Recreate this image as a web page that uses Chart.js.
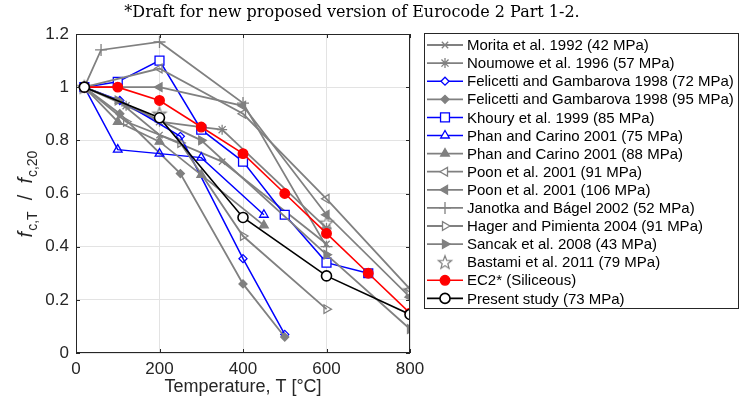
<!DOCTYPE html>
<html>
<head>
<meta charset="utf-8">
<script src="https://cdn.jsdelivr.net/npm/chart.js@4"></script>
<style>
  body { margin: 0; background: #fff; }
  #wrap { width: 740px; height: 409px; }
</style>
</head>
<body>
<div id="wrap"><canvas id="sterkteChart" width="740" height="409"></canvas></div>
<script>
// Relatieve druksterkte f_c,T / f_c,20 tegen temperatuur
const xTicks = [0, 200, 400, 600, 800];
const yTicks = [0, 0.2, 0.4, 0.6, 0.8, 1, 1.2];

const moritaT = [20, 100, 200, 350, 600];
const moritaV = [1, 0.95, 0.82, 0.72, 0.41];
const noumoweT = [20, 120, 200, 300, 350, 600];
const noumoweV = [1, 0.93, 0.87, 0.85, 0.84, 0.47];
const felicetti72T = [20, 105, 250, 400, 500];
const felicetti72V = [1, 0.95, 0.815, 0.355, 0.07];
const felicetti95T = [20, 105, 250, 400, 500];
const felicetti95V = [1, 0.9, 0.675, 0.26, 0.06];
const khouryT = [20, 100, 200, 300, 400, 500, 600, 700];
const khouryV = [1, 1.02, 1.1, 0.84, 0.72, 0.52, 0.34, 0.3];
const phan75T = [20, 100, 200, 300, 450];
const phan75V = [1, 0.765, 0.75, 0.735, 0.52];
const phan88T = [20, 100, 200, 300, 450];
const phan88V = [1, 0.87, 0.795, 0.67, 0.48];
const poon91T = [20, 200, 400, 600, 800];
const poon91V = [1, 1.07, 0.9, 0.58, 0.24];
const poon106T = [20, 200, 400, 600, 800];
const poon106V = [1, 1.0, 0.93, 0.52, 0.21];
const janotkaT = [20, 60, 200, 400, 600];
const janotkaV = [1, 1.14, 1.17, 0.94, 0.4];
const hagerT = [20, 120, 250, 400, 600];
const hagerV = [1, 0.87, 0.79, 0.44, 0.165];
const sancakT = [20, 100, 300, 600, 800];
const sancakV = [1, 0.95, 0.8, 0.37, 0.09];
const bastamiT = [20, 200, 600, 800];
const bastamiV = [1, 0.9, 0.49, 0.235];
const ec2T = [20, 100, 200, 300, 400, 500, 600, 700, 800];
const ec2V = [1, 1, 0.95, 0.85, 0.75, 0.6, 0.45, 0.3, 0.15];
const studieT = [20, 200, 400, 600, 800];
const studieV = [1, 0.885, 0.51, 0.29, 0.145];

const GRIJS = "#808080";
const BLAUW = "#0000ff";

// open vijfpuntige ster als puntstijl
function maakSter(kleur, r) {
  const c = document.createElement("canvas");
  const s = Math.ceil(r * 2 + 4);
  c.width = s; c.height = s;
  const g = c.getContext("2d");
  g.strokeStyle = kleur;
  g.lineWidth = 1.2;
  g.beginPath();
  for (let i = 0; i < 10; i++) {
    const rad = i % 2 === 0 ? r : r * 0.42;
    const a = -Math.PI / 2 + i * Math.PI / 5;
    const px = s / 2 + rad * Math.cos(a);
    const py = s / 2 + rad * Math.sin(a) + 0.5;
    if (i === 0) g.moveTo(px, py); else g.lineTo(px, py);
  }
  g.closePath();
  g.stroke();
  return c;
}
const sterIcoon = maakSter(GRIJS, 7);

function punten(t, v) {
  return t.map((x, i) => ({ x: x, y: v[i] }));
}

function reeks(label, t, v, kleur, stijl, extra) {
  return Object.assign({
    label: label,
    data: punten(t, v),
    borderColor: kleur,
    backgroundColor: "rgba(0,0,0,0)",
    borderWidth: kleur === GRIJS ? 1.8 : 1.5,
    pointStyle: stijl,
    pointRadius: 4.5,
    pointBorderColor: kleur,
    pointBackgroundColor: "rgba(0,0,0,0)",
    pointBorderWidth: 1.3,
    pointRotation: 0,
    tension: 0,
  }, extra || {});
}

const datasets = [
  reeks("Morita et al. 1992 (42 MPa)", moritaT, moritaV, GRIJS, "crossRot"),
  reeks("Noumowe et al. 1996 (57 MPa)", noumoweT, noumoweV, GRIJS, "star", { pointRadius: 5 }),
  reeks("Felicetti and Gambarova 1998 (72 MPa)", felicetti72T, felicetti72V, BLAUW, "rectRot", { pointRadius: 4 }),
  reeks("Felicetti and Gambarova 1998 (95 MPa)", felicetti95T, felicetti95V, GRIJS, "rectRot", { pointRadius: 4, pointBackgroundColor: GRIJS }),
  reeks("Khoury et al. 1999 (85 MPa)", khouryT, khouryV, BLAUW, "rect", { pointRadius: 6.3, pointBackgroundColor: "#fff" }),
  reeks("Phan and Carino 2001 (75 MPa)", phan75T, phan75V, BLAUW, "triangle", { pointRadius: 5 }),
  reeks("Phan and Carino 2001 (88 MPa)", phan88T, phan88V, GRIJS, "triangle", { pointRadius: 5, pointBackgroundColor: GRIJS }),
  reeks("Poon et al. 2001 (91 MPa)", poon91T, poon91V, GRIJS, "triangle", { pointRadius: 5, pointRotation: -90 }),
  reeks("Poon et al. 2001 (106 MPa)", poon106T, poon106V, GRIJS, "triangle", { pointRadius: 5, pointRotation: -90, pointBackgroundColor: GRIJS }),
  reeks("Janotka and Bágel 2002 (52 MPa)", janotkaT, janotkaV, GRIJS, "cross", { pointRadius: 6 }),
  reeks("Hager and Pimienta 2004 (91 MPa)", hagerT, hagerV, GRIJS, "triangle", { pointRadius: 5, pointRotation: 90 }),
  reeks("Sancak et al. 2008 (43 MPa)", sancakT, sancakV, GRIJS, "triangle", { pointRadius: 5, pointRotation: 90, pointBackgroundColor: GRIJS }),
  reeks("Bastami et al. 2011 (79 MPa)", bastamiT, bastamiV, GRIJS, sterIcoon, { showLine: false }),
  reeks("EC2* (Siliceous)", ec2T, ec2V, "#ff0000", "circle", { pointRadius: 4.8, pointBackgroundColor: "#ff0000", borderWidth: 1.6 }),
  reeks("Present study (73 MPa)", studieT, studieV, "#000000", "circle", { pointRadius: 5, pointBackgroundColor: "#fff", pointBorderWidth: 1.6, borderWidth: 1.6 }),
];
// latere reeksen bovenop tekenen
datasets.forEach((d, i) => { d.order = datasets.length - i; });

const TEKST = "#262626";

// titel, y-as titel met subscripts, binnenwaartse tickjes en legenda
const extraTekening = {
  id: "extraTekening",
  afterDraw(chart) {
    const ctx = chart.ctx;
    const ca = chart.chartArea;
    const xs = chart.scales.x;
    const ys = chart.scales.y;
    ctx.save();

    // kader en tickjes
    ctx.strokeStyle = TEKST;
    ctx.lineWidth = 1;
    ctx.strokeRect(ca.left + 0.5, ca.top + 0.5, ca.right - ca.left - 1, ca.bottom - ca.top - 1);
    ctx.beginPath();
    xTicks.forEach(t => {
      const px = Math.round(xs.getPixelForValue(t)) + 0.5;
      ctx.moveTo(px, ca.bottom); ctx.lineTo(px, ca.bottom - 4);
      ctx.moveTo(px, ca.top); ctx.lineTo(px, ca.top + 4);
    });
    yTicks.forEach(t => {
      const py = Math.round(ys.getPixelForValue(t)) + 0.5;
      ctx.moveTo(ca.left, py); ctx.lineTo(ca.left + 4, py);
      ctx.moveTo(ca.right, py); ctx.lineTo(ca.right - 4, py);
    });
    ctx.stroke();

    // titel
    ctx.fillStyle = "#000";
    ctx.font = "16px 'DejaVu Serif'";
    ctx.textAlign = "center";
    ctx.textBaseline = "middle";
    ctx.fillText("*Draft for new proposed version of Eurocode 2 Part 1-2.", 352, 13);

    // y-as titel
    const delen = [
      { t: "f", f: "italic 20px 'Liberation Sans'", dy: 0 },
      { t: "c,T", f: "14px 'Liberation Sans'", dy: 5 },
      { t: "  /  ", f: "20px 'Liberation Sans'", dy: 0 },
      { t: "f", f: "italic 20px 'Liberation Sans'", dy: 0 },
      { t: "c,20", f: "14px 'Liberation Sans'", dy: 5 },
    ];
    let breedte = 0;
    delen.forEach(d => { ctx.font = d.f; d.w = ctx.measureText(d.t).width; breedte += d.w; });
    ctx.translate(26, 195);
    ctx.rotate(-Math.PI / 2);
    ctx.fillStyle = TEKST;
    ctx.textAlign = "left";
    ctx.textBaseline = "alphabetic";
    let x0 = -breedte / 2;
    delen.forEach(d => {
      ctx.font = d.f;
      ctx.fillText(d.t, x0, 6 + d.dy);
      x0 += d.w + (d.t === "f" ? 1 : 0);
    });
    ctx.setTransform(1, 0, 0, 1, 0, 0);

    // legenda
    const lx = 424, ly = 33, lb = 739, lh = 309;
    ctx.fillStyle = "#fff";
    ctx.fillRect(lx, ly, lb - lx, lh - ly);
    ctx.strokeStyle = TEKST;
    ctx.lineWidth = 1;
    ctx.strokeRect(lx + 0.5, ly + 0.5, lb - lx - 1, lh - ly - 1);
    ctx.font = "15px 'Liberation Sans'";
    ctx.textBaseline = "middle";
    ctx.textAlign = "left";
    chart.data.datasets.forEach((d, i) => {
      const y = 45 + i * 18.1;
      if (d.showLine !== false) {
        ctx.strokeStyle = d.borderColor;
        ctx.lineWidth = d.borderWidth;
        ctx.beginPath();
        ctx.moveTo(427, y); ctx.lineTo(463, y);
        ctx.stroke();
      }
      ctx.strokeStyle = d.pointBorderColor;
      ctx.fillStyle = d.pointBackgroundColor === "rgba(0,0,0,0)" ? "#fff" : d.pointBackgroundColor;
      ctx.lineWidth = d.pointBorderWidth;
      Chart.helpers.drawPoint(ctx, {
        pointStyle: d.pointStyle,
        radius: d.pointRadius,
        rotation: d.pointRotation,
        borderWidth: d.pointBorderWidth,
      }, 445, y);
      ctx.fillStyle = "#000";
      ctx.fillText(d.label, 467, y + 1);
    });
    ctx.restore();
  },
};

new Chart(document.getElementById("sterkteChart"), {
  type: "line",
  data: { datasets: datasets },
  options: {
    responsive: false,
    animation: false,
    layout: { padding: { top: 34, right: 330, left: 0, bottom: 0 } },
    plugins: { legend: { display: false }, tooltip: { enabled: false } },
    scales: {
      x: {
        type: "linear",
        min: 0,
        max: 800,
        afterBuildTicks: s => { s.ticks = xTicks.map(v => ({ value: v })); },
        afterFit: s => { s.height = 56; },
        grid: { color: "#e3e3e3", drawTicks: false },
        border: { display: false },
        ticks: { color: TEKST, padding: 6, font: { family: "Liberation Sans", size: 17 } },
        title: {
          display: true,
          text: "Temperature, T [°C]",
          color: TEKST,
          font: { family: "Liberation Sans", size: 18 },
          padding: { top: 0, bottom: 11 },
        },
      },
      y: {
        min: 0,
        max: 1.2,
        afterBuildTicks: s => { s.ticks = yTicks.map(v => ({ value: v })); },
        afterFit: s => { s.width = 76; },
        grid: { color: "#e3e3e3", drawTicks: false },
        border: { display: false },
        ticks: {
          color: TEKST,
          padding: 7,
          font: { family: "Liberation Sans", size: 17 },
          callback: v => String(Number(v.toFixed(1))),
        },
      },
    },
  },
  plugins: [extraTekening],
});
</script>
</body>
</html>
